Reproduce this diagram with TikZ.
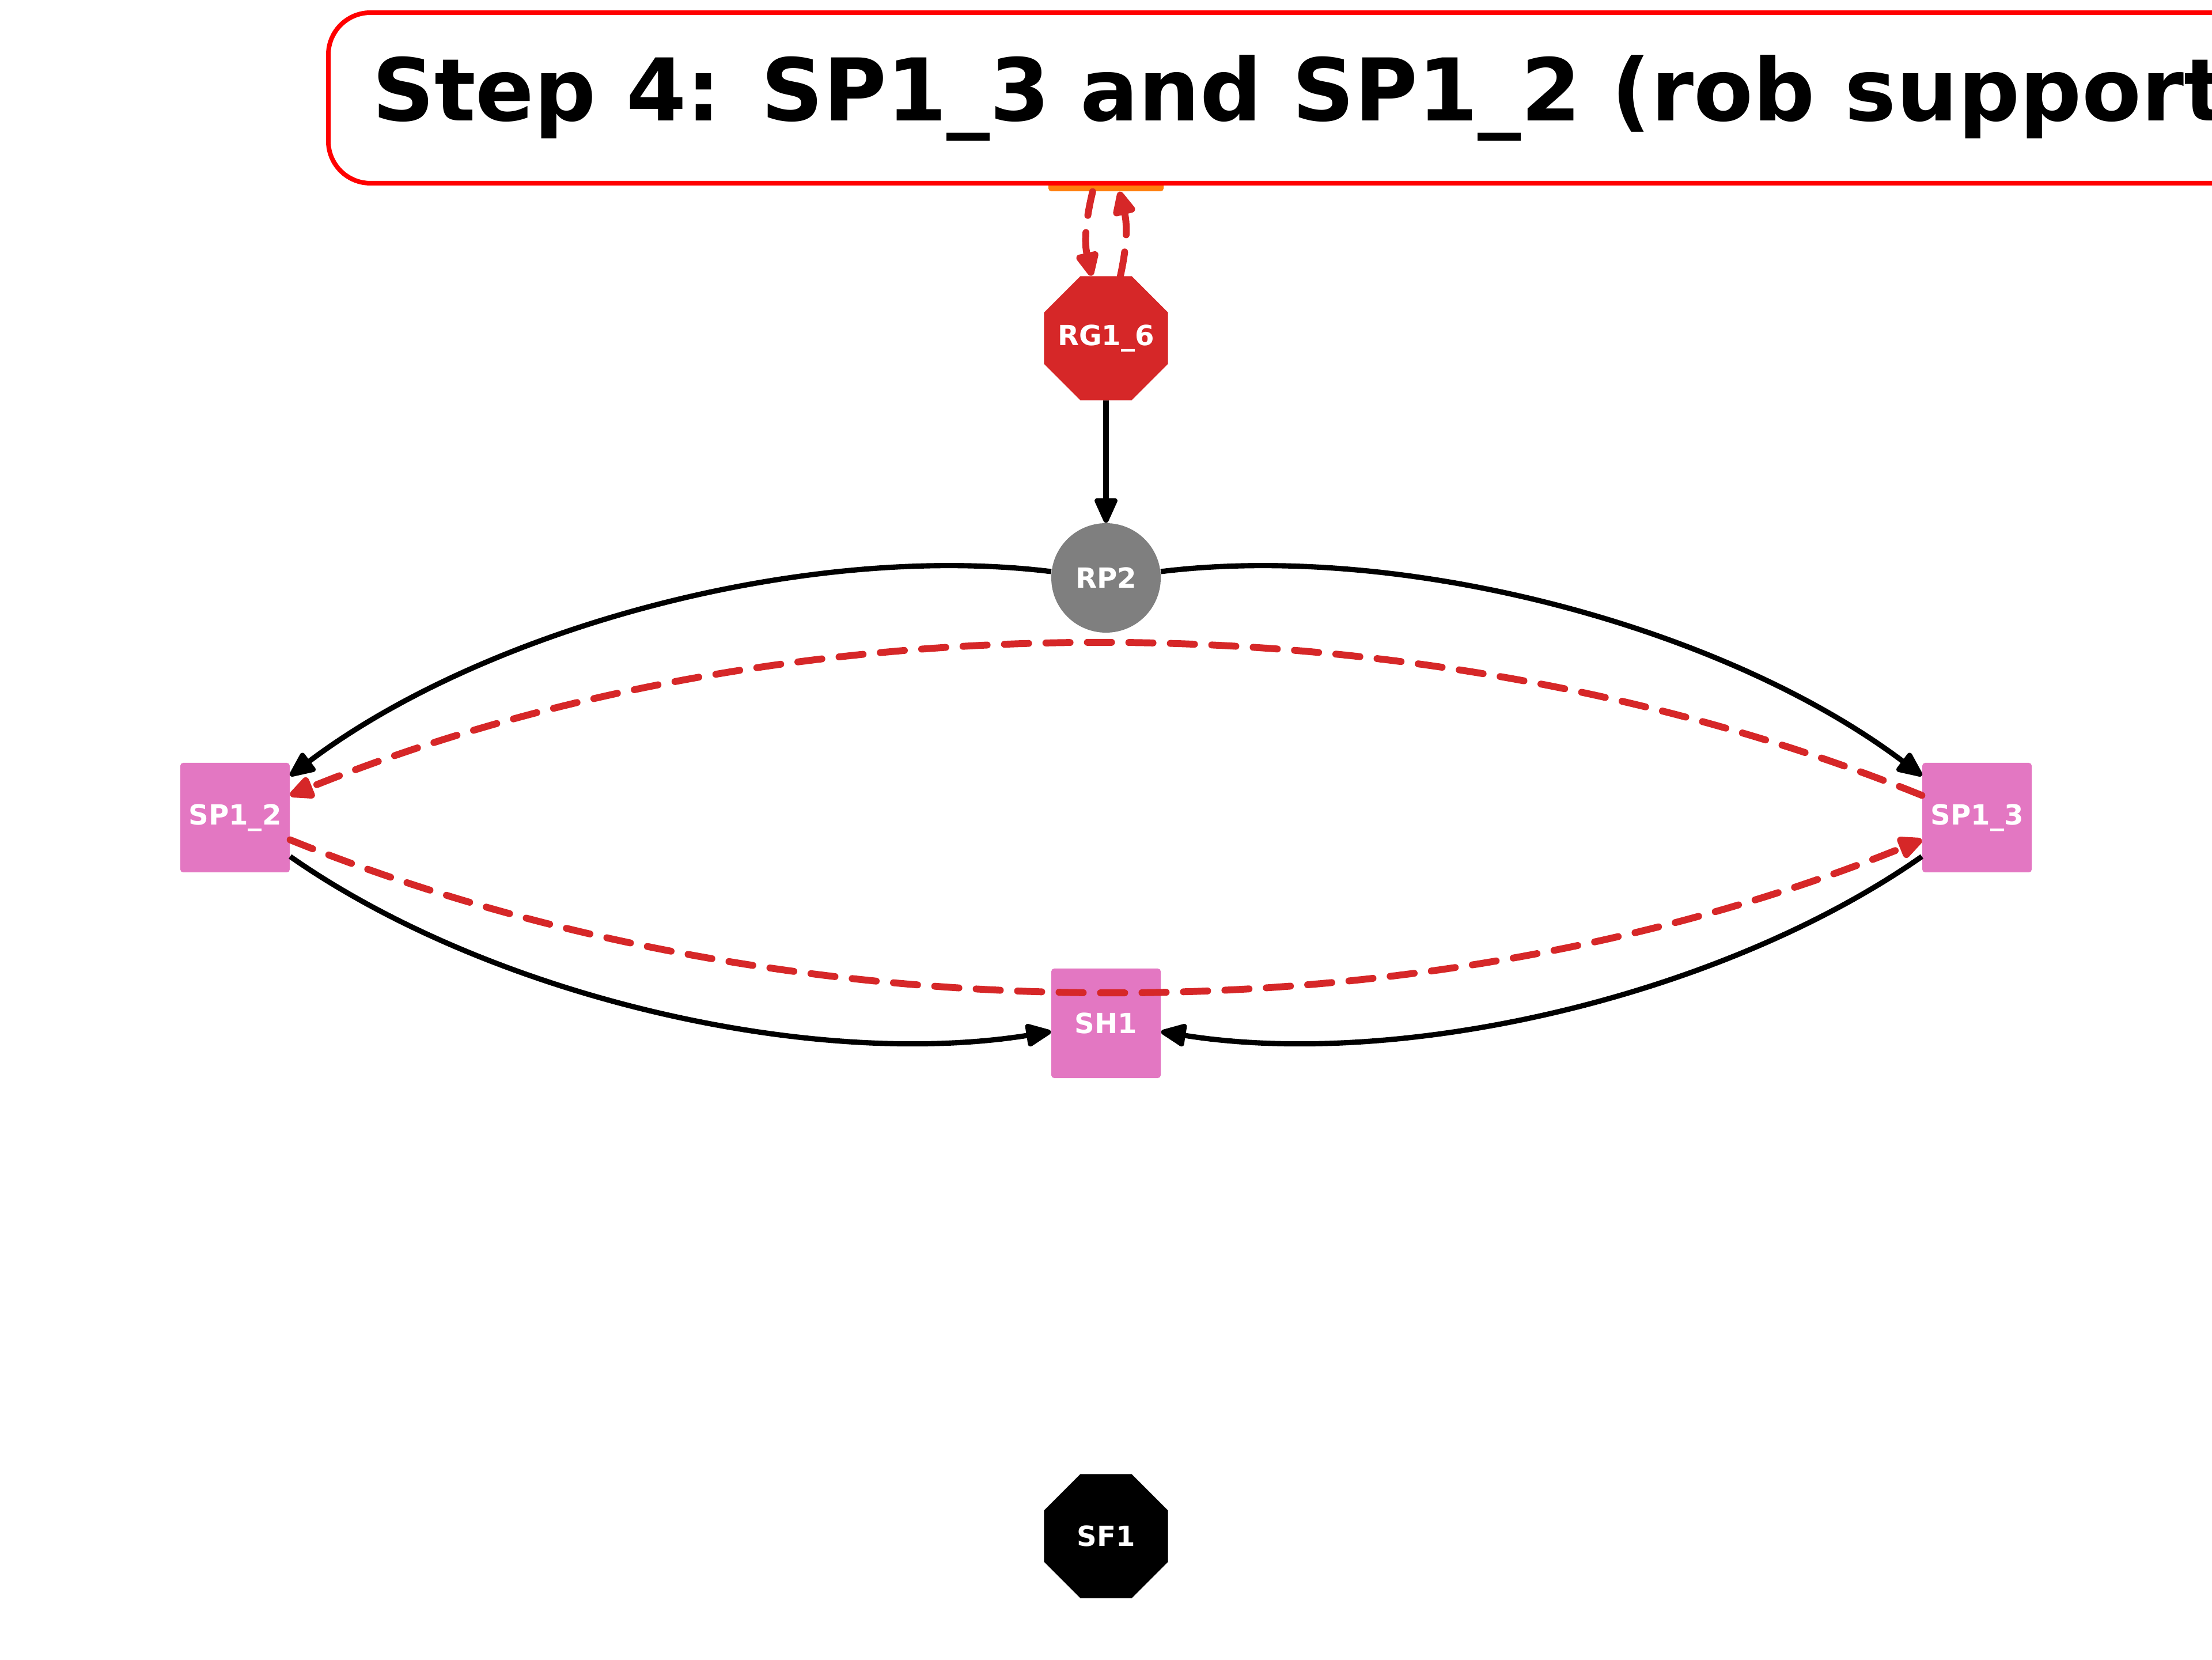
\documentclass[tikz,border=0pt]{standalone}
\usepackage{fontspec}
\setmainfont{DejaVu Sans}
\usetikzlibrary{arrows.meta,shapes.geometric}
\definecolor{tabred}{HTML}{D62728}
\definecolor{tabpink}{HTML}{E377C2}
\definecolor{tabgray}{HTML}{7F7F7F}
\definecolor{taborange}{HTML}{FF7F0E}
\begin{document}
\begin{tikzpicture}[
    vertex/.style={text=white, font=\bfseries\fontsize{13.7}{16}\selectfont, inner sep=0pt},
    sqnode/.style={vertex, rectangle, rounded corners=0.05cm, minimum size=1.9cm},
    octnode/.style={vertex, regular polygon, regular polygon sides=8, minimum size=2.33cm},
    solidedge/.style={black, line width=2.6pt, -{Triangle[length=0.5cm,width=0.42cm,round]}},
    dashedge/.style={tabred, line width=3.4pt, line cap=round, dash pattern=on 0.42cm off 0.3cm,
        -{Triangle[length=0.5cm,width=0.42cm,round]}},
    titlebox/.style={draw=red, line width=0.08cm, fill=white, rounded corners=0.73cm,
        minimum height=2.96cm, inner xsep=0.76cm, font=\bfseries\fontsize{42.7}{51}\selectfont}
]
    \useasboundingbox (0,0) rectangle (38.4,28.8);

    % Nodes
    \node[sqnode, fill=taborange, minimum size=2cm] (orange) at (19.2,26.48) {};
    \node[octnode, fill=tabred] (rg16) at (19.2,22.93) {\makebox[0pt]{RG1\_6}};
    \node[vertex, circle, fill=tabgray, minimum size=1.9cm] (rp2) at (19.2,18.77) {RP2};
    \node[sqnode, fill=tabpink] (sp12) at (4.08,14.61) {SP1\_2};
    \node[sqnode, fill=tabpink] (sp13) at (34.32,14.61) {SP1\_3};
    \node[sqnode, fill=tabpink] (sh1) at (19.2,11.04) {SH1};
    \node[octnode, fill=black] (sf1) at (19.2,2.14) {SF1};

    % Solid edges
    \draw[solidedge] (rg16) -- (rp2);
    \draw[solidedge] (rp2) to[bend right=22, looseness=0.8] (sp12);
    \draw[solidedge] (rp2) to[bend left=22, looseness=0.8] (sp13);
    \draw[solidedge] (sp12) to[bend right=22, looseness=0.8] (sh1);
    \draw[solidedge] (sp13) to[bend left=22, looseness=0.8] (sh1);

    % Dashed edges
    \draw[dashedge] (orange) to[bend right=13] (rg16);
    \draw[dashedge] (rg16) to[bend right=13] (orange);
    \draw[dashedge] (sp13) to[bend right=22, looseness=0.85] (sp12);
    \draw[dashedge] (sp12) to[bend right=22, looseness=0.85] (sp13);

    % Title
    \node[titlebox, anchor=west] (title) at (5.66,27.1) {Step 4: SP1\_3 and SP1\_2 (rob support)};
\end{tikzpicture}
\end{document}
